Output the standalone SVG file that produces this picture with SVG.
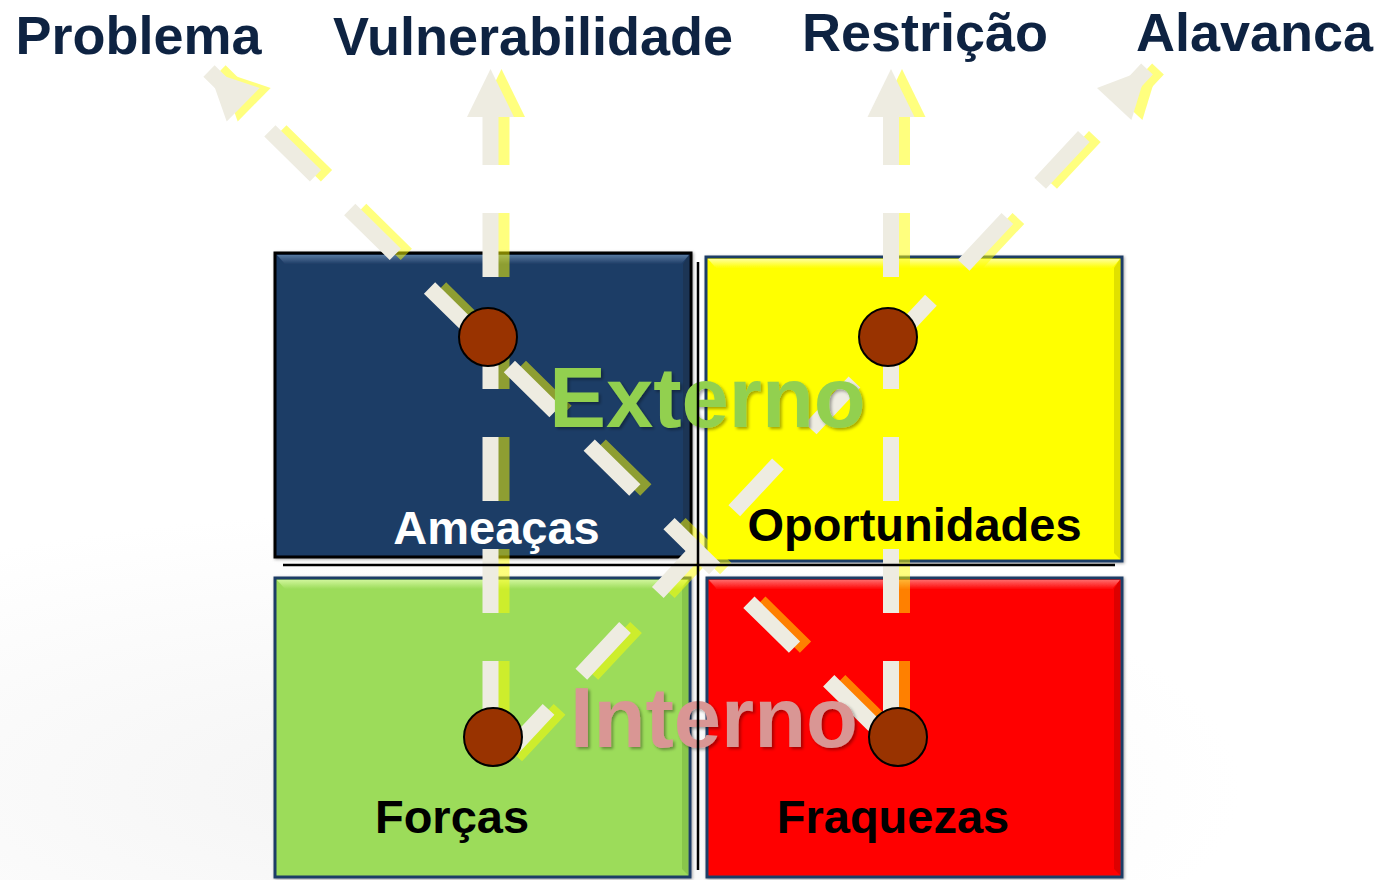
<svg xmlns="http://www.w3.org/2000/svg" width="1379" height="880" viewBox="0 0 1379 880">
<defs>
<style>
.title{font-family:"Liberation Sans",Arial,sans-serif;font-weight:bold;font-size:54px;fill:#0E2342;text-anchor:middle}
.lbl{font-family:"Liberation Sans",Arial,sans-serif;font-weight:bold;font-size:47px;text-anchor:middle}
.big{font-family:"Liberation Sans",Arial,sans-serif;font-weight:bold;font-size:85px;text-anchor:middle}
.dash{fill:none;stroke-width:16;stroke-dasharray:64 48;stroke-linecap:butt}
.main .dash{stroke:#EEECE1}
.main polygon{fill:#EEECE1}
.shadow .dash{stroke:#FFFF00}
.shadow polygon{fill:#FFFF00}
.dot{fill:#993300;stroke:#000;stroke-width:2}
.div{stroke:#000;stroke-width:2.5}
</style>
<filter id="boxsh" x="-5%" y="-5%" width="110%" height="110%">
<feDropShadow dx="1" dy="1" stdDeviation="1.5" flood-color="#000" flood-opacity="0.35"/>
</filter>
<filter id="txtsh" x="-5%" y="-10%" width="110%" height="120%">
<feDropShadow dx="2" dy="2" stdDeviation="1.5" flood-color="#000" flood-opacity="0.35"/>
</filter>
<filter id="soft"><feGaussianBlur stdDeviation="0.7"/></filter>
<linearGradient id="hlNavy" x1="0" y1="0" x2="0" y2="1"><stop offset="0" stop-color="#55779F"/><stop offset="1" stop-color="#1F3D66"/></linearGradient>
<linearGradient id="hlYel" x1="0" y1="0" x2="0" y2="1"><stop offset="0" stop-color="#FFFF99"/><stop offset="1" stop-color="#FFFF00"/></linearGradient>
<linearGradient id="hlGrn" x1="0" y1="0" x2="0" y2="1"><stop offset="0" stop-color="#CFF59A"/><stop offset="1" stop-color="#9CDC5A"/></linearGradient>
<linearGradient id="hlRed" x1="0" y1="0" x2="0" y2="1"><stop offset="0" stop-color="#FF6A6A"/><stop offset="1" stop-color="#FF0606"/></linearGradient>
<radialGradient id="bgfade" cx="0.3" cy="0.8" r="0.6"><stop offset="0" stop-color="#EDEDED"/><stop offset="1" stop-color="#FFFFFF"/></radialGradient>
</defs>
<rect x="0" y="0" width="1379" height="880" fill="#FFFFFF"/>
<rect x="0" y="420" width="1379" height="460" fill="url(#bgfade)" opacity="0.6"/>

<g id="titles">
<text class="title" x="138.5" y="54">Problema</text>
<text class="title" x="533" y="55">Vulnerabilidade</text>
<text class="title" x="925" y="51">Restrição</text>
<text class="title" x="1254.5" y="51">Alavanca</text>
</g>

<g id="ameacas" filter="url(#boxsh)">
<rect x="275" y="253" width="416" height="304" fill="#1F3D66" stroke="#000" stroke-width="3"/>
<polygon points="277,255 689,255 681,264 285,264" fill="url(#hlNavy)"/>
<polygon points="689,255 689,555 683,549 683,264" fill="#1A3455"/>
</g>
<g id="oportunidades" filter="url(#boxsh)">
<rect x="706" y="257" width="416" height="304" fill="#FFFF00" stroke="#1F3D66" stroke-width="3"/>
<polygon points="708,259 1120,259 1112,268 716,268" fill="url(#hlYel)"/>
<polygon points="1120,259 1120,559 1114,553 1114,268" fill="#E0E000"/>
</g>
<g id="forcas" filter="url(#boxsh)">
<rect x="275" y="578" width="415" height="299" fill="#9CDC5A" stroke="#1F3D66" stroke-width="3"/>
<polygon points="277,580 688,580 680,589 285,589" fill="url(#hlGrn)"/>
<polygon points="688,580 688,875 682,869 682,589" fill="#88C64C"/>
</g>
<g id="fraquezas" filter="url(#boxsh)">
<rect x="707" y="578" width="415" height="299" fill="#FF0606" stroke="#1F3D66" stroke-width="3"/>
<polygon points="709,580 1120,580 1112,589 717,589" fill="url(#hlRed)"/>
<polygon points="1120,580 1120,875 1114,869 1114,589" fill="#DD0000"/>
</g>

<g id="connectors">
<g class="shadow" opacity="0.5" transform="translate(11,0)" filter="url(#soft)">
<path class="dash" d="M490.5,70 L490.5,725" stroke-dashoffset="-31"/>
<path class="dash" d="M891,70 L891,725" stroke-dashoffset="-31"/>
<path class="dash" d="M209,71 L875.5,726.8" stroke-dashoffset="-85.4"/>
<path class="dash" d="M1147,69 L505.2,755.8" stroke-dashoffset="-92.5"/>
<polygon points="490.5,69 467,117 514,117"/>
<polygon points="891,69 867.5,117 914.5,117"/>
<polygon points="209,71 259.7,87.9 226.7,121.5"/>
<polygon points="1147,69 1097,88.1 1131.4,120.1"/>
</g>
<g class="main">
<path class="dash" d="M490.5,70 L490.5,725" stroke-dashoffset="-31"/>
<path class="dash" d="M891,70 L891,725" stroke-dashoffset="-31"/>
<path class="dash" d="M209,71 L875.5,726.8" stroke-dashoffset="-85.4"/>
<path class="dash" d="M1147,69 L505.2,755.8" stroke-dashoffset="-92.5"/>
<polygon points="490.5,69 467,117 514,117"/>
<polygon points="891,69 867.5,117 914.5,117"/>
<polygon points="209,71 259.7,87.9 226.7,121.5"/>
<polygon points="1147,69 1097,88.1 1131.4,120.1"/>
</g>
</g>

<g id="dots">
<circle class="dot" cx="488" cy="337" r="29"/>
<circle class="dot" cx="888" cy="337" r="29"/>
<circle class="dot" cx="493" cy="737" r="29"/>
<circle class="dot" cx="898" cy="737" r="29"/>
</g>

<g id="labels">
<text class="lbl" x="496.5" y="544" fill="#FFFFFF">Ameaças</text>
<text class="lbl" x="914.5" y="541" fill="#000000">Oportunidades</text>
<text class="lbl" x="452" y="833" fill="#000000">Forças</text>
<text class="lbl" x="893" y="833" fill="#000000">Fraquezas</text>
</g>

<g id="externo"><text class="big" x="707.5" y="427" fill="#92D050" filter="url(#txtsh)">Externo</text></g>
<g id="interno"><text class="big" x="714" y="747" fill="#D99694" filter="url(#txtsh)">Interno</text></g>

<g id="dividers">
<line class="div" x1="698" y1="262" x2="698" y2="870"/>
<line class="div" x1="283" y1="565" x2="1115" y2="565"/>
</g>
</svg>
